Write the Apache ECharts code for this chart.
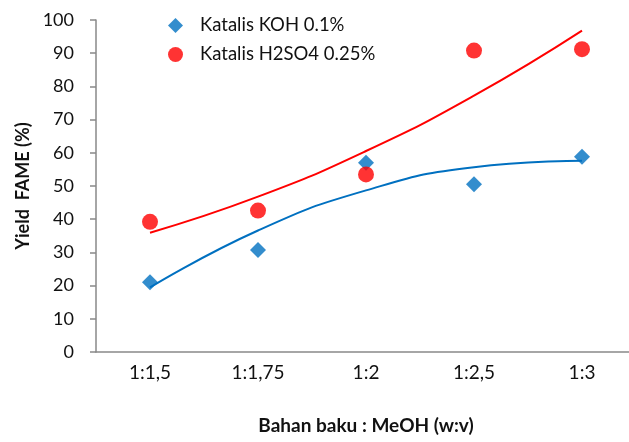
<!DOCTYPE html>
<html>
<head>
<meta charset="utf-8">
<script src="https://cdn.jsdelivr.net/npm/echarts@6/dist/echarts.min.js"></script>
<style>
  html, body { margin: 0; padding: 0; background: #fff; }
  #chart { width: 629px; height: 442px; }
</style>
</head>
<body>
<div id="chart"></div>
<script>
// ===== Data =====
const categories = ['1:1,5', '1:1,75', '1:2', '1:2,5', '1:3'];
const kohYield   = [21, 30.7, 57, 50.5, 58.8];
const h2so4Yield = [39.2, 42.6, 53.5, 90.8, 91.2];

const COLOR_BLUE = '#0070c0';
const COLOR_RED  = '#ff0000';
const COLOR_AXIS = '#898989';
const COLOR_TEXT = '#111111';
const FONT = 'Lato, "Open Sans", sans-serif';

// 2nd order polynomial trendline (least squares), like the spreadsheet one
function polyTrend(ys) {
  const xs = ys.map((_, i) => i + 1);
  let s = [0, 0, 0, 0, 0], t = [0, 0, 0];
  xs.forEach((x, i) => {
    for (let k = 0; k < 5; k++) s[k] += Math.pow(x, k);
    for (let k = 0; k < 3; k++) t[k] += Math.pow(x, k) * ys[i];
  });
  // solve 3x3 normal equations
  const m = [
    [s[0], s[1], s[2], t[0]],
    [s[1], s[2], s[3], t[1]],
    [s[2], s[3], s[4], t[2]],
  ];
  for (let i = 0; i < 3; i++) {
    for (let j = i + 1; j < 3; j++) {
      const f = m[j][i] / m[i][i];
      for (let k = i; k < 4; k++) m[j][k] -= f * m[i][k];
    }
  }
  const c = [0, 0, 0];
  for (let i = 2; i >= 0; i--) {
    let v = m[i][3];
    for (let k = i + 1; k < 3; k++) v -= m[i][k] * c[k];
    c[i] = v / m[i][i];
  }
  return xs.map(x => c[0] + c[1] * x + c[2] * x * x);
}

const chart = echarts.init(document.getElementById('chart'));
chart.setOption({
  animation: false,
  grid: { left: 96, width: 540, top: 20, height: 332, outerBoundsMode: 'none', containLabel: false },
  legend: {
    left: 163, top: 11, orient: 'vertical', itemGap: 10,
    itemWidth: 15, itemHeight: 15,
    textStyle: { color: COLOR_TEXT, fontFamily: FONT, fontSize: 18.5, padding: [0, 0, 0, 12] },
    data: [
      { name: 'Katalis KOH 0.1%', icon: 'diamond' },
      { name: 'Katalis H2SO4 0.25%', icon: 'circle' },
    ],
  },
  xAxis: {
    type: 'category', data: categories, boundaryGap: true,
    name: 'Bahan baku : MeOH (w:v)', nameLocation: 'middle', nameGap: 64,
    nameTextStyle: { color: COLOR_TEXT, fontFamily: FONT, fontSize: 19, fontWeight: 'bold' },
    axisLine: { lineStyle: { color: COLOR_AXIS, width: 1.5 } },
    axisTick: { length: 6, lineStyle: { color: COLOR_AXIS, width: 1.5 } },
    axisLabel: { color: COLOR_TEXT, fontFamily: FONT, fontSize: 19, margin: 11 },
    splitLine: { show: false },
  },
  yAxis: {
    type: 'value', min: 0, max: 100, interval: 10,
    name: 'Yield  FAME (%)', nameLocation: 'middle', nameGap: 64,
    nameTextStyle: { color: COLOR_TEXT, fontFamily: FONT, fontSize: 18, fontWeight: 'bold' },
    axisLine: { show: true, lineStyle: { color: COLOR_AXIS, width: 1.5 } },
    axisTick: { show: true, length: 6, lineStyle: { color: COLOR_AXIS, width: 1.5 } },
    axisLabel: { color: COLOR_TEXT, fontFamily: FONT, fontSize: 18, margin: 22 },
    splitLine: { show: false },
  },
  series: [
    {
      name: 'Katalis KOH 0.1%', type: 'scatter', data: kohYield,
      symbol: 'diamond', symbolSize: 16, itemStyle: { color: COLOR_BLUE }, z: 3,
    },
    {
      name: 'Katalis H2SO4 0.25%', type: 'scatter', data: h2so4Yield,
      symbol: 'circle', symbolSize: 16, itemStyle: { color: COLOR_RED }, z: 3,
    },
    {
      name: 'trend KOH', type: 'line', data: polyTrend(kohYield), smooth: true,
      symbol: 'none', lineStyle: { color: COLOR_BLUE, width: 2 }, z: 2,
    },
    {
      name: 'trend H2SO4', type: 'line', data: polyTrend(h2so4Yield), smooth: true,
      symbol: 'none', lineStyle: { color: COLOR_RED, width: 2 }, z: 2,
    },
  ],
});
</script>
</body>
</html>
